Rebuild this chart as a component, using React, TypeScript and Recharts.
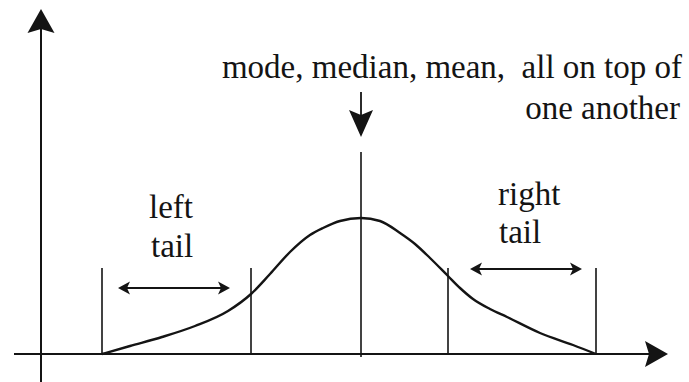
import React from 'react';
import { ComposedChart, Line, XAxis, YAxis, ReferenceLine, ReferenceDot } from 'recharts';

// Chart units: x measured from the vertical axis, y = height above the horizontal axis
const curveX = [61, 89, 121, 154, 187, 210, 229, 249, 269, 282, 299, 320, 339, 359, 374, 389, 407, 419, 432, 449, 466, 499, 532, 555];
const curveH = [0, 8, 17, 28, 43, 60, 80, 102, 119, 126, 133, 136, 133, 121, 110, 96, 78, 66, 55, 45, 37, 21, 9, 0];

const tailBoundaries = [61, 210, 407, 555];
const tailBoundaryTop = 86;
const centerX = 320;
const centerTop = 202;
const centerBottom = -3;

const xDomain: [number, number] = [-41, 648];
const yDomain: [number, number] = [-28, 354];

const xAxisSpan = [-27, 627];
const yAxisSpan = [-28, 345];

const downArrow = { x: centerX, top: 262, tip: 217 };
const leftTailArrow = { y: 66, from: 77, to: 189 };
const rightTailArrow = { y: 85, from: 429, to: 541 };

const titleLines = ['mode, median, mean,  all on top of', 'one another'];
const titlePos = [
  { x: 641, y: 276 },
  { x: 639, y: 235 },
];
const leftLabel = ['left', 'tail'];
const leftLabelPos = [
  { x: 108, y: 136 },
  { x: 110, y: 97 },
];
const rightLabel = ['right', 'tail'];
const rightLabelPos = [
  { x: 457, y: 149 },
  { x: 458, y: 111 },
];

const data = curveX.map((x, i) => ({ x, h: curveH[i] }));

const INK = '#141414';
const FONT = "'Liberation Serif', 'Times New Roman', serif";

function head(tx: number, ty: number, ux: number, uy: number, L: number, W: number, N: number) {
  const bx = tx - L * ux;
  const by = ty - L * uy;
  const px = -uy;
  const py = ux;
  const nx = tx - (L - N) * ux;
  const ny = ty - (L - N) * uy;
  return `${tx},${ty} ${bx + W * px},${by + W * py} ${nx},${ny} ${bx - W * px},${by - W * py}`;
}

function arrowShape(opts: { both: boolean; L: number; W: number; N: number; sw: number }) {
  return (props: any) => {
    const { x1, y1, x2, y2 } = props;
    if ([x1, y1, x2, y2].some((v) => v == null || isNaN(v))) return null;
    const dx = x2 - x1;
    const dy = y2 - y1;
    const len = Math.sqrt(dx * dx + dy * dy) || 1;
    const ux = dx / len;
    const uy = dy / len;
    const inset = opts.L - opts.N;
    const sx = opts.both ? x1 + inset * ux : x1;
    const sy = opts.both ? y1 + inset * uy : y1;
    const ex = x2 - inset * ux;
    const ey = y2 - inset * uy;
    return (
      <g>
        <line x1={sx} y1={sy} x2={ex} y2={ey} stroke={INK} strokeWidth={opts.sw} />
        <polygon points={head(x2, y2, ux, uy, opts.L, opts.W, opts.N)} fill={INK} />
        {opts.both && <polygon points={head(x1, y1, -ux, -uy, opts.L, opts.W, opts.N)} fill={INK} />}
      </g>
    );
  };
}

function textShape(text: string, anchor: 'start' | 'end' | 'middle') {
  return (props: any) => (
    <text
      x={props.cx}
      y={props.cy}
      textAnchor={anchor}
      fontFamily={FONT}
      fontSize={33}
      fill={INK}
      style={{ whiteSpace: 'pre' }}
    >
      {text}
    </text>
  );
}

export default function App() {
  return (
    <div style={{ position: 'absolute', left: 0, top: 0, background: '#fff' }}>
      <ComposedChart width={689} height={382} data={data} margin={{ top: 0, right: 0, bottom: 0, left: 0 }}>
        <XAxis dataKey="x" type="number" domain={xDomain} hide allowDataOverflow />
        <YAxis type="number" domain={yDomain} hide allowDataOverflow width={0} />

        {/* axes with arrowheads */}
        <ReferenceLine
          segment={[{ x: xAxisSpan[0], y: 0 }, { x: xAxisSpan[1], y: 0 }]}
          shape={arrowShape({ both: false, L: 23, W: 13, N: 4, sw: 2 })}
        />
        <ReferenceLine
          segment={[{ x: 0, y: yAxisSpan[0] }, { x: 0, y: yAxisSpan[1] }]}
          shape={arrowShape({ both: false, L: 24, W: 13.5, N: 4, sw: 2 })}
        />

        {/* tail boundaries */}
        {tailBoundaries.map((bx) => (
          <ReferenceLine
            key={'b' + bx}
            segment={[{ x: bx, y: 0 }, { x: bx, y: tailBoundaryTop }]}
            stroke={INK}
            strokeWidth={1.6}
          />
        ))}
        <ReferenceLine
          segment={[{ x: centerX, y: centerBottom }, { x: centerX, y: centerTop }]}
          stroke={INK}
          strokeWidth={1.6}
        />

        {/* arrows */}
        <ReferenceLine
          segment={[{ x: downArrow.x, y: downArrow.top }, { x: downArrow.x, y: downArrow.tip }]}
          shape={arrowShape({ both: false, L: 27, W: 12, N: 5, sw: 1.8 })}
        />
        <ReferenceLine
          segment={[{ x: leftTailArrow.from, y: leftTailArrow.y }, { x: leftTailArrow.to, y: leftTailArrow.y }]}
          shape={arrowShape({ both: true, L: 12, W: 6.5, N: 3, sw: 1.8 })}
        />
        <ReferenceLine
          segment={[{ x: rightTailArrow.from, y: rightTailArrow.y }, { x: rightTailArrow.to, y: rightTailArrow.y }]}
          shape={arrowShape({ both: true, L: 12, W: 6.5, N: 3, sw: 1.8 })}
        />

        <Line
          dataKey="h"
          type="monotone"
          stroke={INK}
          strokeWidth={2.4}
          strokeLinecap="butt"
          dot={false}
          activeDot={false}
          isAnimationActive={false}
        />

        {/* text */}
        {titleLines.map((t, i) => (
          <ReferenceDot key={'t' + i} x={titlePos[i].x} y={titlePos[i].y} r={0} shape={textShape(t, 'end')} />
        ))}
        {leftLabel.map((t, i) => (
          <ReferenceDot key={'l' + i} x={leftLabelPos[i].x} y={leftLabelPos[i].y} r={0} shape={textShape(t, 'start')} />
        ))}
        {rightLabel.map((t, i) => (
          <ReferenceDot key={'r' + i} x={rightLabelPos[i].x} y={rightLabelPos[i].y} r={0} shape={textShape(t, 'start')} />
        ))}
      </ComposedChart>
    </div>
  );
}
